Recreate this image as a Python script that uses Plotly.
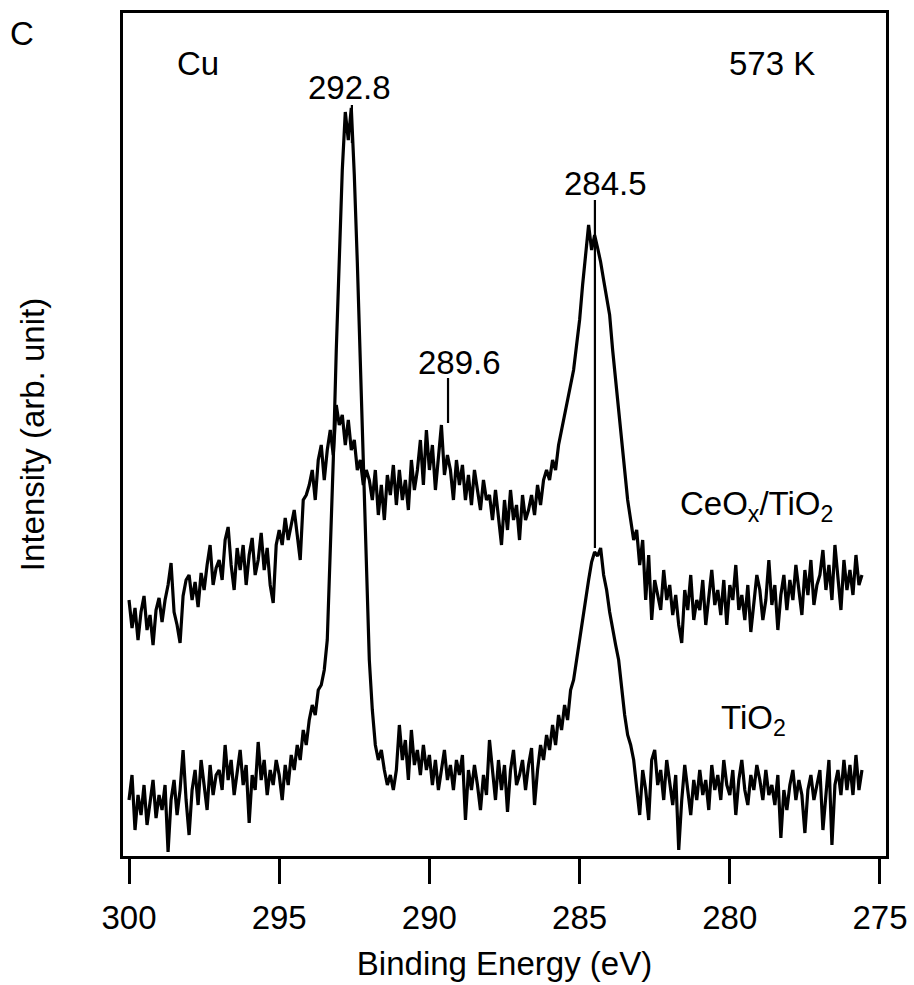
import plotly.graph_objects as go

# Binding-energy sampling of both spectra (eV): first point and step
ENERGY_START = 300.0
ENERGY_STEP = -0.1

# Upper spectrum: CeOx/TiO2 (arb. units), read point by point from 300.0 eV to 275.6 eV
ceox_tio2 = [
    256, 228, 248, 216, 244, 260, 226, 241, 211, 246,
    258, 234, 256, 271, 293, 244, 231, 213, 260, 276,
    281, 256, 274, 249, 283, 266, 291, 311, 271, 288,
    296, 276, 316, 329, 291, 266, 308, 286, 311, 271,
    301, 318, 281, 296, 323, 286, 308, 271, 253, 311,
    326, 311, 338, 316, 331, 346, 321, 296, 356, 361,
    371, 386, 356, 396, 411, 376, 406, 426, 401, 451,
    431, 441, 411, 436, 406, 416, 386, 396, 371, 386,
    376, 356, 386, 341, 371, 336, 381, 361, 391, 351,
    386, 356, 376, 346, 396, 366, 386, 416, 371, 426,
    386, 411, 366, 396, 431, 381, 401, 386, 356, 396,
    371, 391, 356, 381, 351, 386, 366, 346, 376, 356,
    361, 336, 366, 341, 311, 356, 326, 366, 336, 351,
    316, 361, 336, 346, 361, 341, 371, 351, 376, 386,
    376, 396, 386, 411, 426, 441, 456, 471, 486, 511,
    536, 571, 601, 631, 606, 621, 608, 594, 576, 556,
    541, 506, 476, 446, 416, 381, 356, 336, 316, 326,
    291, 316, 256, 301, 236, 276, 261, 246, 286, 256,
    271, 241, 261, 231, 213, 266, 246, 281, 236, 256,
    246, 276, 231, 261, 286, 251, 266, 241, 276, 231,
    271, 256, 291, 246, 261, 236, 271, 224, 256, 281,
    266, 236, 256, 296, 251, 271, 226, 261, 281, 246,
    276, 256, 291, 266, 241, 286, 261, 296, 251, 271,
    281, 306, 266, 291, 256, 311, 276, 246, 296, 266,
    286, 261, 301, 271, 281,
]

# Lower spectrum: TiO2 (arb. units), same energy grid
tio2 = [
    56, 81, 26, 61, 41, 71, 31, 56, 76, 38,
    61, 46, 71, 4, 56, 76, 41, 66, 106, 56,
    21, 66, 86, 51, 96, 71, 46, 91, 61, 81,
    86, 66, 111, 76, 96, 61, 86, 106, 71, 91,
    33, 81, 66, 114, 76, 96, 61, 86, 71, 96,
    81, 56, 91, 71, 101, 86, 111, 96, 126, 111,
    136, 151, 141, 166, 171, 186, 216, 296, 396, 506,
    606, 686, 744, 716, 748, 681, 594, 496, 376, 276,
    196, 146, 111, 96, 106, 86, 71, 81, 66, 86,
    131, 96, 116, 76, 126, 91, 106, 81, 111, 86,
    101, 71, 96, 66, 86, 106, 76, 91, 66, 96,
    81, 101, 36, 86, 66, 91, 71, 46, 81, 61,
    116, 86, 56, 96, 66, 91, 44, 86, 106, 71,
    81, 96, 66, 91, 108, 51, 86, 111, 96, 121,
    106, 131, 111, 141, 126, 151, 136, 166, 176, 196,
    216, 241, 256, 276, 294, 304, 300, 308, 281, 266,
    244, 226, 211, 196, 166, 141, 121, 111, 96, 66,
    41, 86, 66, 36, 96, 106, 71, 86, 56, 96,
    76, 51, 81, 6, 56, 91, 66, 41, 76, 56,
    86, 61, 76, 46, 91, 66, 81, 56, 96, 71,
    61, 86, 41, 76, 96, 66, 51, 81, 66, 91,
    76, 56, 86, 61, 71, 51, 81, 18, 66, 46,
    71, 86, 56, 76, 61, 23, 66, 81, 56, 71,
    86, 26, 66, 96, 11, 71, 86, 61, 96, 66,
    91, 61, 101, 66, 86,
]

# Tick labels of the energy axis
x_ticks = [300, 295, 290, 285, 280, 275]

# Peak labels and their marker lines
peak_labels = ["292.8", "289.6", "284.5"]
peak_label_x = [292.65, 289.0, 284.15]
peak_label_y = [769, 494, 673]
marker_x = [292.58, 289.38, 284.49]
marker_y0 = [713, 433, 308]
marker_y1 = [751, 478, 656]

FONT = "Liberation Sans, Arial, sans-serif"
FS = 33

fig = go.Figure()
fig.add_trace(go.Scatter(y=ceox_tio2, x0=ENERGY_START, dx=ENERGY_STEP, mode="lines",
                         line=dict(color="black", width=3.2), name="CeOx/TiO2"))
fig.add_trace(go.Scatter(y=tio2, x0=ENERGY_START, dx=ENERGY_STEP, mode="lines",
                         line=dict(color="black", width=3.2), name="TiO2"))

for i in range(len(peak_labels)):
    fig.add_shape(type="line", xref="x", yref="y",
                  x0=marker_x[i], x1=marker_x[i], y0=marker_y0[i], y1=marker_y1[i],
                  line=dict(color="black", width=2.2))
    fig.add_annotation(x=peak_label_x[i], y=peak_label_y[i], text=peak_labels[i],
                       showarrow=False, xanchor="center", yanchor="middle",
                       font=dict(size=FS, color="black", family=FONT))

# text labels inside the plot
fig.add_annotation(x=297.7, y=793, text="Cu", showarrow=False,
                   font=dict(size=FS, color="black", family=FONT))
fig.add_annotation(x=278.6, y=793, text="573 K", showarrow=False,
                   font=dict(size=FS, color="black", family=FONT))
fig.add_annotation(x=279.1, y=350, text="CeO<sub>x</sub>/TiO<sub>2</sub>", showarrow=False,
                   font=dict(size=FS, color="black", family=FONT))
fig.add_annotation(x=279.2, y=136, text="TiO<sub>2</sub>", showarrow=False,
                   font=dict(size=FS, color="black", family=FONT))
# panel letter
fig.add_annotation(xref="paper", yref="paper", x=-0.132, y=0.976, text="C",
                   showarrow=False, xanchor="center", yanchor="middle",
                   font=dict(size=FS, color="black", family=FONT))

fig.update_layout(
    width=914, height=985,
    margin=dict(l=123, r=28, t=13, b=129, autoexpand=False),
    paper_bgcolor="white", plot_bgcolor="white",
    showlegend=False,
    font=dict(family=FONT, size=FS, color="black"),
)
fig.update_xaxes(
    range=[300.2, 274.8], tickvals=x_ticks, ticktext=[str(t) for t in x_ticks],
    ticks="outside", ticklen=25, tickwidth=3, tickcolor="black",
    ticklabelstandoff=5,
    showline=True, linewidth=3, linecolor="black", mirror=True,
    showgrid=False, zeroline=False, automargin=False,
    tickfont=dict(size=FS, family=FONT, color="black"),
    title=dict(text="Binding Energy (eV)", font=dict(size=FS, family=FONT, color="black"), standoff=18),
)
fig.update_yaxes(
    range=[0, 843], showticklabels=False, ticks="",
    showline=True, linewidth=3, linecolor="black", mirror=True,
    showgrid=False, zeroline=False, automargin=False,
    title=dict(text="Intensity (arb. unit)", font=dict(size=FS, family=FONT, color="black"), standoff=66),
)

fig.write_html("out.html", config={"displayModeBar": False},
               post_script="document.body.style.margin='0';")
